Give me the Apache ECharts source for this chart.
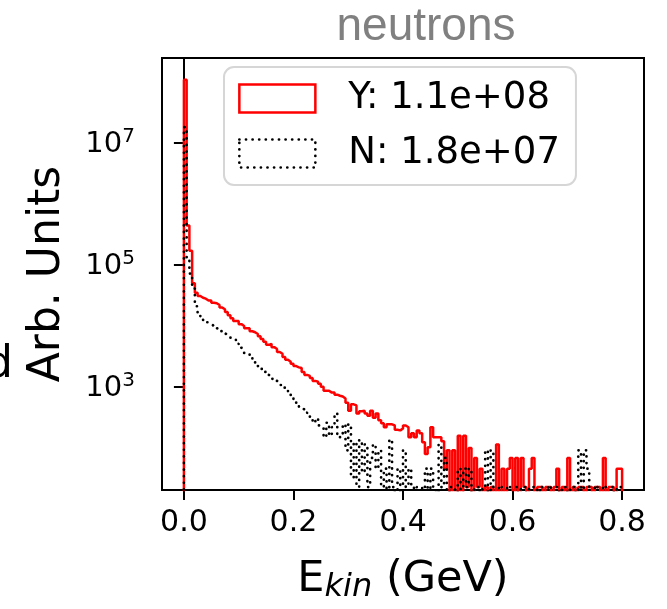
<!DOCTYPE html>
<html><head><meta charset="utf-8">
<script src="https://cdn.jsdelivr.net/npm/echarts@6/dist/echarts.min.js"></script>
<style>html,body{margin:0;padding:0;background:#fff}#c{width:667px;height:609px}</style>
</head><body><div id="c"></div>
<script>
// ---- data ----
const panelTitle = 'neutrons';
const binWidth = 0.005; // GeV, bins from 0 to 0.8
const legendLabels = ['Y: 1.1e+08', 'N: 1.8e+07'];
const xTicks = [0, 0.2, 0.4, 0.6, 0.8];
const yTicks = [1e3, 1e5, 1e7];
const yesCounts = [
  1.07e8, 4.4e5, 1.7e5, 5.0e4, 3.5e4, 3.1e4, 2.9e4, 2.8e4, 2.6e4, 2.6e4,
  2.4e4, 2.35e4, 2.2e4, 2.0e4, 1.88e4, 1.7e4, 1.5e4, 1.34e4, 1.2e4, 1.2e4,
  1.07e4, 1.0e4, 9200, 9200, 8200, 7900, 7400, 6800, 6100, 5500,
  4900, 5100, 4500, 4200, 3750, 3500, 3100, 2800, 2600, 2400,
  2200, 2100, 2050, 1770, 1580, 1520, 1400, 1260, 1220, 1130,
  1010, 870, 870, 810, 810, 750, 720, 700, 650, 555,
  410, 520, 500, 370, 400, 410, 370, 340, 410, 315,
  370, 285, 255, 220, 245, 245, 235, 200, 195, 210,
  235, 220, 150, 175, 150, 195, 175, 125, 80, 103,
  220, 150, 150, 150, 130, 46, 92, 0, 92, 0,
  160, 0, 160, 23, 100, 0, 69, 23, 46, 0,
  23, 0, 23, 0, 115, 0, 46, 0, 46, 69,
  0, 69, 0, 69, 23, 0, 46, 69, 0, 23,
  23, 0, 23, 23, 0, 23, 46, 0, 23, 0,
  69, 0, 23, 0, 23, 23, 0, 23, 23, 0,
  23, 23, 0, 69, 0, 23, 23, 0, 46, 46
];
const noCounts = [
  1.8e7, 1.26e5, 7.2e4, 4.1e4, 2.1e4, 1.6e4, 1.39e4, 1.25e4, 1.15e4, 1.07e4,
  1.0e4, 9200, 8900, 8200, 7600, 7100, 6800, 6300, 5900, 5100,
  4400, 4100, 3600, 3500, 3200, 2800, 2400, 2200, 1980, 1770,
  1580, 1520, 1360, 1260, 1170, 1080, 975, 900, 780, 720,
  600, 520, 460, 430, 380, 340, 315, 260, 305, 235,
  220, 150, 260, 160, 220, 370, 150, 165, 245, 92,
  245, 33, 125, 23, 135, 40, 115, 23, 69, 115,
  46, 92, 23, 46, 0, 138, 23, 0, 46, 0,
  92, 23, 46, 23, 0, 23, 23, 0, 46, 0,
  46, 23, 0, 115, 23, 69, 0, 23, 23, 0,
  46, 0, 46, 23, 46, 0, 23, 23, 0, 23,
  92, 0, 92, 23, 23, 0, 23, 23, 0, 23,
  23, 23, 0, 23, 23, 0, 23, 23, 23, 0,
  23, 23, 23, 0, 23, 23, 23, 0, 23, 23,
  0, 23, 23, 0, 92, 0, 92, 46, 23, 23,
  0, 23, 23, 0, 23, 23, 23, 0, 23, 23
];

// step-histogram outline built from the bin counts (empty bins drop below the axis)
function stepData(counts) {
  const floor = 1e-3;
  const pts = [[0, floor]];
  counts.forEach((c, i) => pts.push([+(i * binWidth).toFixed(4), c > 0 ? c : floor]));
  pts.push([+(counts.length * binWidth).toFixed(4), floor]);
  return pts;
}

const FONT = '"DejaVu Sans", sans-serif';
const chart = echarts.init(document.getElementById('c'), null, {renderer: 'canvas'});
chart.setOption({
  animation: false,
  backgroundColor: '#fff',
  grid: {left: 162, right: 23, top: 58, bottom: 116, show: true, borderColor: '#000', borderWidth: 2, backgroundColor: 'transparent'},
  xAxis: {
    type: 'value', min: -0.04, max: 0.84,
    axisLine: {show: true, onZero: false, lineStyle: {color: '#000', width: 2}},
    axisTick: {show: true, customValues: xTicks, length: 10, lineStyle: {color: '#000', width: 2}},
    axisLabel: {customValues: xTicks, formatter: v => v.toFixed(1), fontSize: 30, fontFamily: FONT, color: '#000', margin: 18},
    splitLine: {show: false},
    name: '{e|E}{k|kin}{e| (GeV)}', nameLocation: 'middle', nameGap: 68,
    nameTextStyle: {
      color: '#000', fontFamily: FONT,
      rich: {
        e: {fontSize: 43, fontFamily: FONT, color: '#000', lineHeight: 40, verticalAlign: 'top'},
        k: {fontSize: 32, fontFamily: FONT, fontStyle: 'italic', color: '#000', lineHeight: 40, padding: [14, 0, 0, 0], verticalAlign: 'top'}
      }
    }
  },
  yAxis: {
    type: 'log', logBase: 10, min: 20.6, max: 2.44e8,
    axisLine: {show: true, lineStyle: {color: '#000', width: 2}},
    axisTick: {show: true, customValues: yTicks, length: 10, lineStyle: {color: '#000', width: 2}},
    axisLabel: {
      customValues: yTicks, margin: 27,
      formatter: v => '{b|10}{s|' + Math.round(Math.log10(v)) + '}',
      rich: {
        b: {fontSize: 29, fontFamily: FONT, color: '#000', verticalAlign: 'bottom'},
        s: {fontSize: 20, fontFamily: FONT, color: '#000', verticalAlign: 'bottom', padding: [0, 0, 12, 0]}
      }
    },
    minorTick: {show: false},
    splitLine: {show: false},
    name: 'Arb. Units', nameLocation: 'middle', nameGap: 92,
    nameTextStyle: {fontSize: 44, fontFamily: FONT, color: '#000'}
  },
  legend: {
    orient: 'vertical', left: 224, top: 67,
    padding: [13, 16, 13, 14],
    itemWidth: 76, itemHeight: 28, itemGap: 18,
    backgroundColor: 'rgba(255,255,255,0.8)', borderColor: '#d6d6d6', borderWidth: 2, borderRadius: 10,
    textStyle: {fontSize: 37, fontFamily: FONT, color: '#000', lineHeight: 28, padding: [0, 0, 0, 28]},
    selectedMode: false,
    data: [
      {name: legendLabels[0], icon: 'rect', itemStyle: {color: 'rgba(0,0,0,0)', borderColor: '#ff0000', borderWidth: 2.5}},
      {name: legendLabels[1], icon: 'rect', itemStyle: {color: 'rgba(0,0,0,0)', borderColor: '#000', borderWidth: 2.7, borderType: [0.1, 6.5], borderCap: 'round'}}
    ]
  },
  graphic: [
    {type: 'text', x: 426, y: 27, style: {text: panelTitle, font: '46px "Liberation Sans", Arial, sans-serif', fill: '#808080', textAlign: 'center', textVerticalAlign: 'middle'}},
    {type: 'text', x: 13, y: 366, style: {text: 'd', font: '44px "DejaVu Sans", sans-serif', fill: '#000', textAlign: 'right', textVerticalAlign: 'middle'}}
  ],
  series: [
    {type: 'line', name: legendLabels[0], data: stepData(yesCounts), step: 'end', symbol: 'none', showSymbol: false, clip: true,
     lineStyle: {color: '#ff0000', width: 2.5}, itemStyle: {color: '#ff0000'}, z: 2},
    {type: 'line', name: legendLabels[1], data: stepData(noCounts), step: 'end', symbol: 'none', showSymbol: false, clip: true,
     lineStyle: {color: '#000', width: 2.7, type: [0.1, 6.5], cap: 'round'}, itemStyle: {color: '#000'}, z: 3}
  ]
});
</script>
</body></html>
